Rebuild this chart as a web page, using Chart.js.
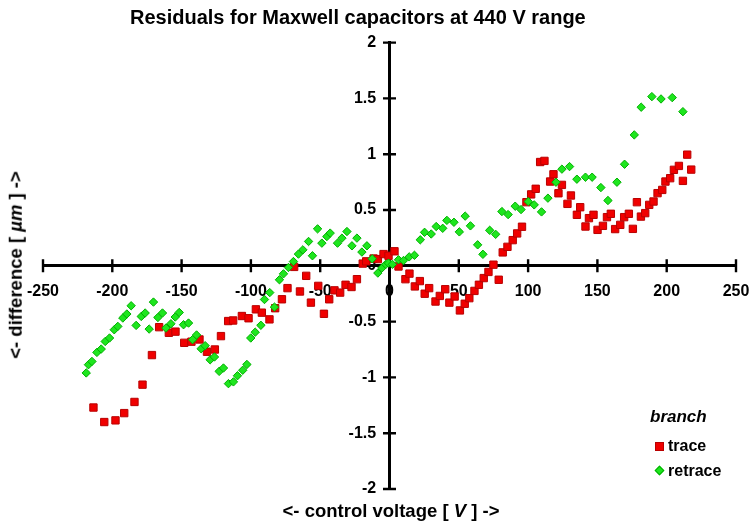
<!DOCTYPE html>
<html>
<head>
<meta charset="utf-8">
<script src="https://cdn.jsdelivr.net/npm/chart.js@4/dist/chart.umd.min.js"></script>
<style>
  html, body { margin: 0; padding: 0; background: #fff; }
  #wrap { position: relative; width: 753px; height: 523px; font-family: "Liberation Sans", Arial, sans-serif; color: #000; }
  canvas { position: absolute; left: 0; top: 0; }
  .txt { position: absolute; white-space: nowrap; font-weight: bold; line-height: 1; }
  #title { left: 130px; top: 17px; font-size: 20px; transform: translateY(-50%); }
  #xtitle { left: 391px; top: 511px; font-size: 18.5px; transform: translate(-50%, -50%); }
  #ytitle { left: 16px; top: 265px; font-size: 18.5px; transform: translate(-50%, -50%) rotate(-90deg); }
  #legend { position: absolute; left: 640px; top: 405px; width: 95px; }
  #legTitle { position: absolute; left: 10px; top: 3px; font-size: 17px; font-style: italic; }
  .item { position: absolute; left: 28px; font-size: 16px; }
  .mk { position: absolute; box-sizing: border-box; }
</style>
</head>
<body>
<div id="wrap">
  <canvas id="c" width="753" height="523"></canvas>
  <div class="txt" id="title">Residuals for Maxwell capacitors at 440 V range</div>
  <div class="txt" id="xtitle">&lt;- control voltage [ <i>V</i> ] -&gt;</div>
  <div class="txt" id="ytitle">&lt;- difference [ <i>µm</i> ] -&gt;</div>
  <div id="legend" class="txt">
    <div id="legTitle">branch</div>
    <div class="mk" style="left:15px; top:37px; width:9px; height:9px; background:rgb(240,0,0); border:1px solid rgb(185,0,0);"></div>
    <div class="item" style="top:33px;">trace</div>
    <div class="mk" style="left:16px; top:62px; width:7px; height:7px; background:rgb(30,230,30); border:1px solid rgb(0,175,0); transform: rotate(45deg);"></div>
    <div class="item" style="top:58px;">retrace</div>
  </div>
</div>
<script>
// ---- data ----
const traceX = [-213.6,-205.8,-197.7,-191.4,-184.0,-178.2,-171.4,-166.2,-159.2,-154.4,-148.1,-142.9,-137.1,-131.7,-126.0,-121.6,-116.4,-112.8,-106.5,-101.7,-96.4,-92.1,-86.6,-82.5,-77.6,-73.6,-68.8,-64.6,-60.1,-56.7,-51.4,-47.3,-43.5,-39.7,-35.6,-31.7,-27.4,-23.5,-19.3,-16.8,-11.5,-8.4,-4.3,-0.7,3.6,6.5,11.5,14.4,18.3,21.9,25.4,28.6,33.2,36.3,40.2,43.2,47.0,50.8,54.3,57.6,61.3,64.5,68.0,71.4,75.0,78.8,81.7,85.1,88.9,92.1,95.6,98.8,102.2,105.5,108.7,111.8,115.9,118.3,121.9,124.4,128.4,130.9,135.2,137.6,141.4,143.9,147.2,150.1,154.0,156.9,159.7,162.8,166.5,169.3,172.7,175.6,178.5,181.4,184.5,187.4,190.5,193.4,196.8,199.1,202.5,205.2,208.8,211.7,214.8,217.7];
const traceY = [-1.27,-1.40,-1.385,-1.32,-1.22,-1.065,-0.80,-0.55,-0.60,-0.59,-0.69,-0.68,-0.66,-0.77,-0.75,-0.63,-0.495,-0.49,-0.45,-0.47,-0.39,-0.42,-0.48,-0.38,-0.30,-0.20,-0.01,-0.23,-0.09,-0.33,-0.18,-0.43,-0.30,-0.22,-0.24,-0.17,-0.19,-0.12,0.02,0.04,0.065,0.06,0.105,0.09,0.13,-0.006,-0.12,-0.07,-0.185,-0.137,-0.25,-0.20,-0.32,-0.27,-0.21,-0.33,-0.275,-0.40,-0.34,-0.29,-0.225,-0.17,-0.11,-0.055,0.01,-0.125,0.12,0.17,0.23,0.29,0.35,0.57,0.64,0.69,0.93,0.94,0.755,0.82,0.65,0.725,0.555,0.63,0.457,0.525,0.352,0.427,0.457,0.322,0.358,0.436,0.466,0.329,0.367,0.436,0.466,0.331,0.57,0.441,0.472,0.546,0.576,0.651,0.68,0.755,0.785,0.86,0.895,0.761,0.996,0.862];
const retraceX = [-218.8,-217.2,-214.7,-211.1,-208.0,-205.1,-202.0,-198.6,-196.0,-192.4,-189.5,-186.4,-182.8,-179.1,-176.3,-173.4,-170.3,-167.1,-163.8,-161.3,-157.7,-154.6,-151.7,-148.6,-145.0,-142.1,-139.2,-135.9,-133.0,-129.4,-126.3,-122.9,-119.8,-116.2,-112.6,-109.7,-105.9,-102.9,-100.1,-96.9,-92.8,-90.2,-86.4,-83.0,-79.4,-76.5,-72.9,-69.3,-65.7,-62.5,-58.4,-55.6,-51.9,-48.8,-45.2,-42.8,-37.5,-34.3,-30.7,-27.1,-23.5,-19.9,-16.3,-12.5,-8.4,-5.5,-2.7,-0.7,2.1,6.5,10.1,14.2,18.0,22.2,25.3,30.1,33.7,38.4,41.4,46.5,50.4,54.6,58.4,63.6,67.4,72.3,76.6,81.1,85.6,90.7,94.9,100.1,104.4,109.7,114.3,120.1,124.4,129.9,135.2,141.4,146.2,152.5,157.6,164.1,169.6,176.6,181.6,189.3,195.9,204.0,211.7];
const retraceY = [-0.96,-0.886,-0.857,-0.776,-0.746,-0.678,-0.647,-0.573,-0.543,-0.468,-0.432,-0.358,-0.534,-0.454,-0.423,-0.567,-0.325,-0.463,-0.423,-0.558,-0.519,-0.459,-0.418,-0.528,-0.513,-0.662,-0.62,-0.743,-0.716,-0.842,-0.817,-0.946,-0.916,-1.056,-1.04,-0.985,-0.936,-0.884,-0.647,-0.595,-0.533,-0.302,-0.24,-0.37,-0.125,-0.072,-0.015,0.038,0.105,0.143,0.218,0.09,0.331,0.203,0.262,0.293,0.203,0.248,0.307,0.179,0.248,0.123,0.179,0.063,-0.065,-0.02,0.013,0.024,0.013,0.054,0.047,0.08,0.094,0.233,0.30,0.285,0.352,0.336,0.407,0.39,0.304,0.445,0.358,0.188,0.103,0.318,0.282,0.486,0.459,0.534,0.504,0.576,0.546,0.483,0.606,0.749,0.866,0.889,0.776,0.794,0.794,0.701,0.585,0.749,0.91,1.173,1.421,1.516,1.495,1.507,1.381];
const xTickRange = { min: -250, max: 250, step: 50 };
const yTickRange = { min: -2, max: 2, step: 0.5 };
const seriesNames = ['trace', 'retrace'];

const toPoints = (xs, ys) => xs.map((x, i) => ({ x: x, y: ys[i] }));
const FONT = '"Liberation Sans", Arial, sans-serif';

const crossTicks = {
  id: 'crossTicks',
  beforeDatasetsDraw(chart) {
    const { ctx, scales: { x, y } } = chart;
    const x0 = x.getPixelForValue(0), y0 = y.getPixelForValue(0);
    const h = 6.5;
    ctx.save();
    ctx.strokeStyle = '#000';
    ctx.lineWidth = 2.4;
    ctx.beginPath();
    x.ticks.forEach(t => { if (t.value === 0) return; const px = x.getPixelForValue(t.value); ctx.moveTo(px, y0 - h); ctx.lineTo(px, y0 + h); });
    y.ticks.forEach(t => { if (t.value === 0) return; const py = y.getPixelForValue(t.value); ctx.moveTo(x0 - h, py); ctx.lineTo(x0 + h, py); });
    ctx.stroke();
    ctx.restore();
  }
};

new Chart(document.getElementById('c'), {
  type: 'scatter',
  data: {
    datasets: [
      {
        label: seriesNames[0],
        data: toPoints(traceX, traceY),
        pointStyle: 'rect',
        pointRadius: 5.2,
        pointBackgroundColor: 'rgb(240,0,0)',
        pointBorderColor: 'rgb(185,0,0)',
        pointBorderWidth: 1,
        order: 2
      },
      {
        label: seriesNames[1],
        data: toPoints(retraceX, retraceY),
        pointStyle: 'rectRot',
        pointRadius: 4.2,
        pointBackgroundColor: 'rgb(30,230,30)',
        pointBorderColor: 'rgb(0,175,0)',
        pointBorderWidth: 1,
        order: 1
      }
    ]
  },
  options: {
    responsive: false,
    devicePixelRatio: 1,
    animation: false,
    layout: { padding: { left: 43, right: 17, top: 42.6, bottom: 34 } },
    plugins: {
      legend: { display: false },
      tooltip: { enabled: false },
      title: { display: false }
    },
    scales: {
      x: {
        type: 'linear',
        position: { y: 0 },
        min: xTickRange.min,
        max: xTickRange.max,
        ticks: { stepSize: xTickRange.step, color: '#000', font: { family: FONT, size: 16, weight: 'bold' }, padding: 16, maxRotation: 0, autoSkip: false },
        grid: { display: true, drawOnChartArea: false, drawTicks: false },
        border: { display: true, color: '#000', width: 3 },
        afterFit: s => { s.height = 0; s.paddingLeft = 0; s.paddingRight = 0; s.paddingTop = 0; s.paddingBottom = 0; }
      },
      y: {
        type: 'linear',
        position: { x: 0 },
        min: yTickRange.min,
        max: yTickRange.max,
        ticks: {
          stepSize: yTickRange.step, color: '#000', font: { family: FONT, size: 16, weight: 'bold' }, autoSkip: false,
          callback: v => String(Number(v.toFixed(2))) + '   '
        },
        grid: { display: true, drawOnChartArea: false, drawTicks: false },
        border: { display: true, color: '#000', width: 3 },
        afterFit: s => { s.width = 0; s.paddingLeft = 0; s.paddingRight = 0; s.paddingTop = 0; s.paddingBottom = 0; }
      }
    }
  },
  plugins: [crossTicks]
});
</script>
</body>
</html>
